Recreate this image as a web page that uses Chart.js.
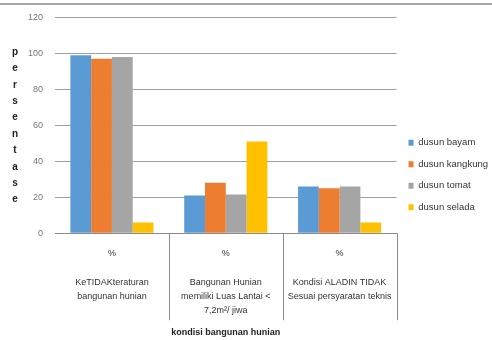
<!DOCTYPE html>
<html>
<head>
<meta charset="utf-8">
<script src="https://cdn.jsdelivr.net/npm/chart.js@4"></script>
<style>
  html, body { margin: 0; padding: 0; background: #fff; overflow: hidden; }
  #wrap { width: 492px; height: 340px; position: relative; }
</style>
</head>
<body>
<div id="wrap"><canvas id="chart"></canvas></div>
<script>
// data
var categories = [
    ['%', '', 'KeTIDAKteraturan', 'bangunan hunian'],
    ['%', '', 'Bangunan Hunian', 'memiliki Luas Lantai <', '7,2m\u00B2/ jiwa'],
    ['%', '', 'Kondisi ALADIN TIDAK', 'Sesuai persyaratan teknis']
];
var seriesNames = ['dusun bayam', 'dusun kangkung', 'dusun tomat', 'dusun selada'];
var bayam = [99, 21, 26];
var kangkung = [97, 28, 25];
var tomat = [98, 21.5, 26];
var selada = [6, 51, 6];
var yTicks = [0, 20, 40, 60, 80, 100, 120];
var yTitle = 'persentase';
var xTitle = 'kondisi bangunan hunian';

var colors = ['#5B9BD5', '#ED7D31', '#A5A5A5', '#FFC000'];
var values = [bayam, kangkung, tomat, selada];

document.addEventListener('DOMContentLoaded', function () {
    // separators under the x axis + stacked y title + top rule
    var extras = {
        id: 'extras',
        afterDraw: function (chart) {
            var ctx = chart.ctx;
            var x = chart.scales.x;
            var area = chart.chartArea;
            ctx.save();
            // top rule
            ctx.strokeStyle = '#a6a6a6';
            ctx.lineWidth = 2;
            ctx.beginPath();
            ctx.moveTo(0, 4);
            ctx.lineTo(chart.width, 4);
            ctx.stroke();
            // category separators
            ctx.strokeStyle = '#8c8c8c';
            ctx.lineWidth = 1;
            var half = (x.getPixelForValue(1) - x.getPixelForValue(0)) / 2;
            for (var i = 0; i < categories.length; i++) {
                var px = Math.round(x.getPixelForValue(i) + half) + 0.5;
                ctx.beginPath();
                ctx.moveTo(px, area.bottom);
                ctx.lineTo(px, area.bottom + 87);
                ctx.stroke();
            }
            // stacked letters of y title
            ctx.fillStyle = '#222';
            ctx.font = 'bold 10px "Liberation Sans", Arial, sans-serif';
            ctx.textAlign = 'center';
            ctx.textBaseline = 'middle';
            for (var j = 0; j < yTitle.length; j++) {
                ctx.fillText(yTitle[j], 15, 52 + j * 16.4);
            }
            ctx.restore();
        }
    };

    var ctx = document.getElementById('chart').getContext('2d');
    var chart = new Chart(ctx, {
        type: 'bar',
        data: {
            labels: categories,
            datasets: seriesNames.map(function (name, i) {
                return {
                    label: name,
                    data: values[i],
                    backgroundColor: colors[i],
                    borderWidth: 0,
                    categoryPercentage: 0.73,
                    barPercentage: 1
                };
            })
        },
        options: {
            responsive: true,
            maintainAspectRatio: false,
            animation: false,
            layout: { padding: { left: 16, top: 12, right: -6, bottom: 2 } },
            plugins: {
                tooltip: { enabled: false },
                legend: {
                    position: 'right',
                    align: 'center',
                    labels: {
                        boxWidth: 5,
                        boxHeight: 6,
                        padding: 12,
                        color: '#333',
                        font: { size: 9.5, family: '"Liberation Sans", Arial, sans-serif' }
                    }
                }
            },
            scales: {
                x: {
                    grid: { display: false, drawTicks: false },
                    border: { display: true, color: '#8c8c8c' },
                    ticks: {
                        color: '#333',
                        maxRotation: 0,
                        autoSkip: false,
                        padding: 13,
                        font: { size: 9, family: '"Liberation Sans", Arial, sans-serif', lineHeight: 1.6 }
                    },
                    title: {
                        display: true,
                        text: xTitle,
                        color: '#222',
                        padding: { top: -4, bottom: 0 },
                        font: { size: 9, weight: 'bold', family: '"Liberation Sans", Arial, sans-serif' }
                    }
                },
                y: {
                    min: 0,
                    max: 120,
                    afterBuildTicks: function (scale) {
                        scale.ticks = yTicks.map(function (v) { return { value: v }; });
                    },
                    grid: { color: '#a0a0a0', drawTicks: false },
                    border: { display: false },
                    ticks: {
                        color: '#777',
                        padding: 12,
                        font: { size: 9, family: '"Liberation Sans", Arial, sans-serif' }
                    }
                }
            }
        },
        plugins: [extras]
    });
});
</script>
</body>
</html>
